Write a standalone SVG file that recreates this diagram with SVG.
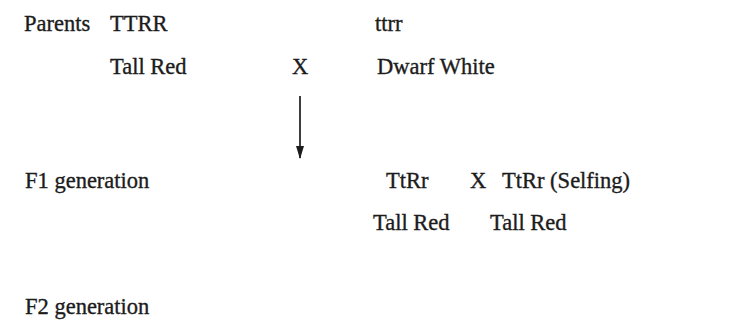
<svg xmlns="http://www.w3.org/2000/svg" width="742" height="334" viewBox="0 0 742 334">
  <style>
    text { font-family: "Liberation Serif", "Times New Roman", serif; font-size: 22.5px; fill: #1c1c1c; stroke: #1c1c1c; stroke-width: 0.35; }
    .conn { stroke: #1c1c1c; stroke-width: 1.7; fill: none; }
  </style>
  <defs>
    <marker id="arrowhead" viewBox="0 0 13 8" refX="12" refY="4" markerWidth="13" markerHeight="8" markerUnits="userSpaceOnUse" orient="auto">
      <path d="M0,0 L13,4 L0,8 Z" fill="#1c1c1c"/>
    </marker>
  </defs>
  <rect width="742" height="334" fill="#ffffff"/>

  <!-- parental cross -->
  <g id="parents-label"><text x="24" y="31">Parents</text></g>
  <g id="parent1">
    <text x="110" y="31">TTRR</text>
    <text x="110" y="74">Tall Red</text>
  </g>
  <g id="cross-p"><text x="292" y="74">X</text></g>
  <g id="parent2">
    <text x="375" y="31">ttrr</text>
    <text x="377" y="74">Dwarf White</text>
  </g>

  <!-- F1 selfing -->
  <g id="f1-label"><text x="25" y="188">F1 generation</text></g>
  <g id="f1-a">
    <text x="386" y="188">TtRr</text>
    <text x="373" y="230">Tall Red</text>
  </g>
  <g id="cross-f1"><text x="470" y="188">X</text></g>
  <g id="f1-b">
    <text x="502" y="188">TtRr (Selfing)</text>
    <text x="490" y="230">Tall Red</text>
  </g>

  <!-- F2 -->
  <g id="f2-label"><text x="25" y="314">F2 generation</text></g>

  <g id="connectors">
    <line class="conn" x1="300" y1="96" x2="300" y2="158" marker-end="url(#arrowhead)"/>
  </g>
</svg>
